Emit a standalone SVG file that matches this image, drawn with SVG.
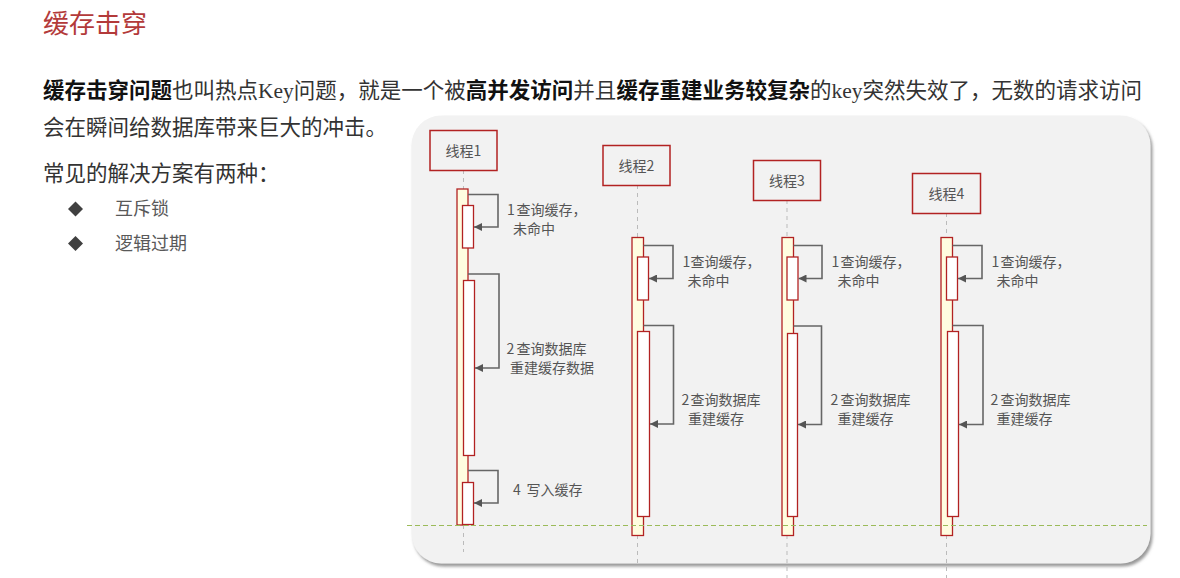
<svg xmlns="http://www.w3.org/2000/svg" width="1180" height="578" viewBox="0 0 1180 578">
<defs>
<filter id="sh" x="-5%" y="-5%" width="110%" height="110%">
<feDropShadow dx="2" dy="3" stdDeviation="1.5" flood-color="#7f7f7f" flood-opacity="0.8"/>
</filter>
<marker id="ah" viewBox="0 0 8 8" refX="8" refY="4" markerWidth="8" markerHeight="8" markerUnits="userSpaceOnUse" orient="auto">
<path d="M0,0 L8,4 L0,8 z" fill="#555"/>
</marker>
</defs>
<style>
.para{font-family:"Liberation Serif","Noto Sans CJK SC",serif;font-size:21.5px;fill:#333}
.b{font-weight:bold;fill:#111}
.title{font-family:"Liberation Serif","Noto Sans CJK SC",serif;font-size:26px;fill:#b33a3a}
.bul{font-family:"Liberation Serif","Noto Sans CJK SC",serif;font-size:18px;fill:#595959}
.box{fill:none;stroke:#b22222;stroke-width:1.5}
.lbl{font-family:"Noto Sans CJK SC",sans-serif;font-size:14px;fill:#555}
.life{stroke:#bbb;stroke-width:1;stroke-dasharray:4 4;fill:none}
.act{fill:#fffde0;stroke:#b22222;stroke-width:1.3}
.sub{fill:#fff;stroke:#b22222;stroke-width:1.3}
.msg{fill:none;stroke:#666;stroke-width:1.6;marker-end:url(#ah)}
</style>
<rect width="1180" height="578" fill="#fff"/>
<text class="title" x="43" y="33">缓存击穿</text>
<text class="para" x="43" y="98"><tspan class="b">缓存击穿问题</tspan>也叫热点Key问题，就是一个被<tspan class="b">高并发访问</tspan>并且<tspan class="b">缓存重建业务较复杂</tspan>的key突然失效了，无数的请求访问</text>
<text class="para" x="43" y="135">会在瞬间给数据库带来巨大的冲击。</text>
<text class="para" x="43" y="181">常见的解决方案有两种：</text>
<path d="M75.5,201.5 L83,209 L75.5,216.5 L68,209 z" fill="#404040"/>
<text class="bul" x="115" y="215">互斥锁</text>
<path d="M75.5,236 L83,243.5 L75.5,251 L68,243.5 z" fill="#404040"/>
<text class="bul" x="115" y="250">逻辑过期</text>

<rect x="411.5" y="115.5" width="739" height="448" rx="30" fill="#f2f2f2" filter="url(#sh)"/>

<g id="lifelines">
<path class="life" d="M463.5,170 V189 M463.5,525 V552"/>
<path class="life" d="M637.5,185 V237 M637.5,535 V565"/>
<path class="life" d="M787,200 V237 M787,535 V578"/>
<path class="life" d="M946.5,213 V237 M946.5,535 V578"/>
</g>

<g id="thread1">
<rect class="box" x="430" y="130.5" width="67" height="40"/>
<text class="lbl" x="463.5" y="156" text-anchor="middle">线程1</text>
<rect class="act" x="457" y="189" width="11" height="336"/>
<rect class="sub" x="462.5" y="205.5" width="11" height="42.5"/>
<rect class="sub" x="463.5" y="280.5" width="11" height="175"/>
<rect class="sub" x="462.5" y="482.5" width="11" height="42"/>
</g>
<g id="thread2">
<rect class="box" x="603" y="145.5" width="67" height="40"/>
<text class="lbl" x="636.5" y="171" text-anchor="middle">线程2</text>
<rect class="act" x="632" y="237.5" width="11.5" height="298"/>
<rect class="sub" x="637.5" y="257" width="11" height="43"/>
<rect class="sub" x="637.5" y="331.5" width="12" height="185"/>
</g>
<g id="thread3">
<rect class="box" x="753.5" y="160.5" width="67" height="40"/>
<text class="lbl" x="787" y="186" text-anchor="middle">线程3</text>
<rect class="act" x="782" y="237.5" width="11.5" height="298"/>
<rect class="sub" x="787" y="257" width="11" height="43"/>
<rect class="sub" x="787.5" y="333.5" width="10" height="183"/>
</g>
<g id="thread4">
<rect class="box" x="912.5" y="173.5" width="68" height="40"/>
<text class="lbl" x="946.5" y="199" text-anchor="middle">线程4</text>
<rect class="act" x="941" y="237.5" width="11.5" height="298"/>
<rect class="sub" x="946.5" y="257" width="11" height="43"/>
<rect class="sub" x="947.5" y="331.5" width="11" height="185"/>
</g>

<g id="connectors">
<path class="msg" d="M468,194.5 H498 V227 H474"/>
<path class="msg" d="M468,274 H499 V368 H475"/>
<path class="msg" d="M468,470.5 H498 V503 H474"/>
<path class="msg" d="M643.5,245.5 H673 V278.5 H649"/>
<path class="msg" d="M643.5,325.5 H673.5 V424 H650"/>
<path class="msg" d="M793.5,245.5 H822 V278.5 H798.5"/>
<path class="msg" d="M793.5,326 H821.5 V424.5 H798"/>
<path class="msg" d="M952.5,245.5 H982 V278.5 H958"/>
<path class="msg" d="M952.5,325.5 H983 V424.5 H959"/>
</g>

<g id="labels">
<text class="lbl" x="507" y="215">1<tspan x="516.5">查询缓存，</tspan><tspan x="513" y="234">未命中</tspan></text>
<text class="lbl" x="506.5" y="354">2<tspan x="516.5">查询数据库</tspan><tspan x="510" y="373">重建缓存数据</tspan></text>
<text class="lbl" x="513" y="495">4<tspan x="526.5">写入缓存</tspan></text>

<text class="lbl" x="682.5" y="267">1<tspan x="690.5">查询缓存，</tspan><tspan x="687.5" y="286">未命中</tspan></text>
<text class="lbl" x="681.5" y="405">2<tspan x="690.5">查询数据库</tspan><tspan x="688" y="424">重建缓存</tspan></text>

<text class="lbl" x="831.5" y="267">1<tspan x="840.5">查询缓存，</tspan><tspan x="837.5" y="286">未命中</tspan></text>
<text class="lbl" x="830.5" y="405">2<tspan x="840.5">查询数据库</tspan><tspan x="837.5" y="424">重建缓存</tspan></text>

<text class="lbl" x="991.5" y="267">1<tspan x="1000.5">查询缓存，</tspan><tspan x="996.5" y="286">未命中</tspan></text>
<text class="lbl" x="990.5" y="405">2<tspan x="1000.5">查询数据库</tspan><tspan x="996.5" y="424">重建缓存</tspan></text>
</g>

<line x1="407" y1="525.5" x2="1147" y2="525.5" stroke="#9bbb59" stroke-width="1" stroke-dasharray="5 3"/>
</svg>
